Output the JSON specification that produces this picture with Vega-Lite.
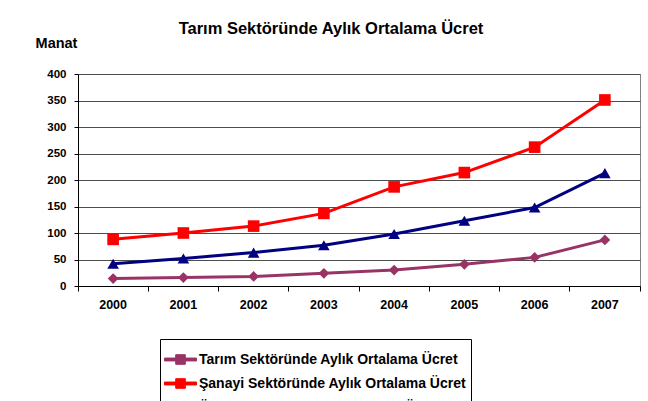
{
  "$schema": "https://vega.github.io/schema/vega-lite/v6.json",
  "width": 562,
  "height": 212,
  "autosize": {"type": "none"},
  "padding": {"left": 78, "top": 74, "right": 8, "bottom": 115},
  "background": "white",
  "title": {
    "text": "Tarım Sektöründe Aylık Ortalama Ücret",
    "anchor": "middle",
    "frame": "group",
    "font": "Liberation Sans",
    "fontSize": 16.5,
    "fontWeight": "bold",
    "color": "black",
    "baseline": "alphabetic",
    "offset": -15,
    "dx": -28
  },
  "data": {
    "values": [
      {"year": "2000", "series": "Tarım Sektöründe Aylık Ortalama Ücret", "value": 14},
      {"year": "2001", "series": "Tarım Sektöründe Aylık Ortalama Ücret", "value": 16},
      {"year": "2002", "series": "Tarım Sektöründe Aylık Ortalama Ücret", "value": 18},
      {"year": "2003", "series": "Tarım Sektöründe Aylık Ortalama Ücret", "value": 24},
      {"year": "2004", "series": "Tarım Sektöründe Aylık Ortalama Ücret", "value": 30},
      {"year": "2005", "series": "Tarım Sektöründe Aylık Ortalama Ücret", "value": 41},
      {"year": "2006", "series": "Tarım Sektöründe Aylık Ortalama Ücret", "value": 54},
      {"year": "2007", "series": "Tarım Sektöründe Aylık Ortalama Ücret", "value": 87},
      {"year": "2000", "series": "Şanayi Sektöründe Aylık Ortalama Ücret", "value": 88},
      {"year": "2001", "series": "Şanayi Sektöründe Aylık Ortalama Ücret", "value": 100},
      {"year": "2002", "series": "Şanayi Sektöründe Aylık Ortalama Ücret", "value": 113},
      {"year": "2003", "series": "Şanayi Sektöründe Aylık Ortalama Ücret", "value": 137},
      {"year": "2004", "series": "Şanayi Sektöründe Aylık Ortalama Ücret", "value": 187},
      {"year": "2005", "series": "Şanayi Sektöründe Aylık Ortalama Ücret", "value": 214},
      {"year": "2006", "series": "Şanayi Sektöründe Aylık Ortalama Ücret", "value": 262},
      {"year": "2007", "series": "Şanayi Sektöründe Aylık Ortalama Ücret", "value": 351},
      {"year": "2000", "series": "Ülke Genelinde Aylık Ortalama Ücret", "value": 42},
      {"year": "2001", "series": "Ülke Genelinde Aylık Ortalama Ücret", "value": 52},
      {"year": "2002", "series": "Ülke Genelinde Aylık Ortalama Ücret", "value": 63},
      {"year": "2003", "series": "Ülke Genelinde Aylık Ortalama Ücret", "value": 77},
      {"year": "2004", "series": "Ülke Genelinde Aylık Ortalama Ücret", "value": 98},
      {"year": "2005", "series": "Ülke Genelinde Aylık Ortalama Ücret", "value": 123},
      {"year": "2006", "series": "Ülke Genelinde Aylık Ortalama Ücret", "value": 148},
      {"year": "2007", "series": "Ülke Genelinde Aylık Ortalama Ücret", "value": 213}
    ]
  },
  "encoding": {
    "x": {
      "field": "year",
      "type": "ordinal",
      "scale": {"type": "band", "paddingInner": 0, "paddingOuter": 0},
      "axis": {
        "title": null,
        "labelAngle": 0,
        "bandPosition": 1,
        "tickExtra": true,
        "tickSize": 5,
        "tickColor": "black",
        "domainColor": "black",
        "labelPadding": 7,
        "labelFont": "Liberation Sans",
        "labelFontSize": 12.5,
        "labelFontWeight": "bold",
        "labelColor": "black",
        "grid": false
      }
    },
    "y": {
      "field": "value",
      "type": "quantitative",
      "scale": {"domain": [0, 400], "nice": false},
      "axis": {
        "title": "Manat",
        "titleAngle": 0,
        "titleAlign": "center",
        "titleBaseline": "alphabetic",
        "titleX": -22,
        "titleY": -27,
        "titleFont": "Liberation Sans",
        "titleFontSize": 14.5,
        "titleFontWeight": "bold",
        "titleColor": "black",
        "values": [0, 50, 100, 150, 200, 250, 300, 350, 400],
        "tickSize": 4,
        "tickColor": "black",
        "domainColor": "black",
        "labelPadding": 8,
        "labelFont": "Liberation Sans",
        "labelFontSize": 11.5,
        "labelFontWeight": "bold",
        "labelColor": "black",
        "grid": true,
        "gridColor": "#4d4d4d",
        "gridWidth": 1
      }
    },
    "color": {
      "field": "series",
      "type": "nominal",
      "scale": {
        "domain": ["Tarım Sektöründe Aylık Ortalama Ücret", "Şanayi Sektöründe Aylık Ortalama Ücret", "Ülke Genelinde Aylık Ortalama Ücret"],
        "range": ["#993366", "#ff0000", "#000080"]
      },
      "legend": {
        "title": null,
        "orient": "none",
        "legendX": 82,
        "legendY": 265,
        "strokeColor": "black",
        "fillColor": "white",
        "padding": 4,
        "symbolType": "M-1,-0.09H-0.3V-0.3H0.3V-0.09H1V0.09H0.3V0.3H-0.3V0.09H-1Z",
        "symbolSize": 1024,
        "symbolStrokeWidth": 1,
        "symbolOpacity": 1,
        "symbolOffset": 0,
        "labelOffset": 2,
        "rowPadding": -1,
        "labelFont": "Liberation Sans",
        "labelFontSize": 14,
        "labelFontWeight": "bold",
        "labelColor": "black",
        "labelLimit": 400
      }
    }
  },
  "layer": [
    {
      "transform": [{"filter": "datum.series === 'Tarım Sektöründe Aylık Ortalama Ücret'"}],
      "mark": {"type": "point", "filled": true, "opacity": 1, "size": 115, "shape": "diamond"}
    },
    {
      "transform": [{"filter": "datum.series === 'Şanayi Sektöründe Aylık Ortalama Ücret'"}],
      "mark": {"type": "point", "filled": true, "opacity": 1, "size": 135, "shape": "square"}
    },
    {
      "transform": [{"filter": "datum.series === 'Ülke Genelinde Aylık Ortalama Ücret'"}],
      "mark": {"type": "point", "filled": true, "opacity": 1, "size": 135, "shape": "triangle-up"}
    },
    {
      "mark": {"type": "line", "strokeWidth": 3}
    }
  ],
  "config": {
    "view": {"stroke": "#808080", "strokeWidth": 1}
  }
}
